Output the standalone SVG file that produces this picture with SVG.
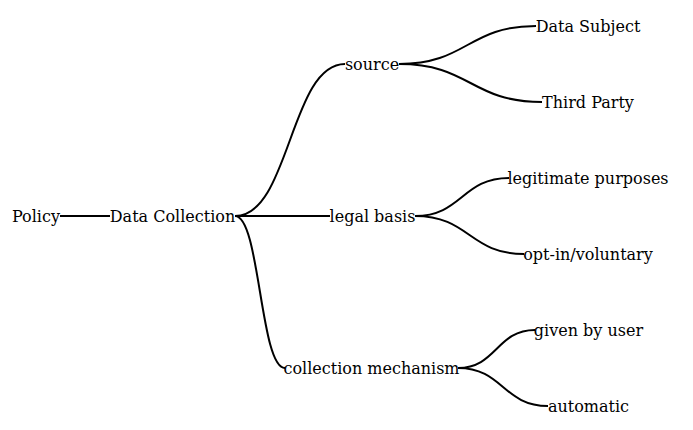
<svg xmlns="http://www.w3.org/2000/svg" width="693" height="430" viewBox="0 0 693 430">
<style>
text{font-family:"DejaVu Serif",serif;font-size:16px;fill:#000;text-anchor:middle;dominant-baseline:central}
.l{fill:none;stroke:#000;stroke-width:2}
</style>
<rect width="693" height="430" fill="#fff"/>
<g id="links">
<path class="l" d="M60,216 L110,216"/>
<path class="l" d="M235,216 C290,216 290,64 345,64"/>
<path class="l" d="M235,216 L330,216"/>
<path class="l" d="M235,216 C260,216 260,368 285,368"/>
<path class="l" d="M399,64 C467.5,64 467.5,26 536,26"/>
<path class="l" d="M399,64 C470.5,64 470.5,102 542,102"/>
<path class="l" d="M415,216 C462,216 462,178 509,178"/>
<path class="l" d="M415,216 C469.5,216 469.5,254 524,254"/>
<path class="l" d="M458,368 C496.5,368 496.5,330 535,330"/>
<path class="l" d="M458,368 C503,368 503,406 548,406"/>
</g>
<g id="n-policy"><text x="36" y="216">Policy</text></g>
<g id="n-datacollection"><text x="172.5" y="216">Data Collection</text></g>
<g id="n-source"><text x="372" y="64">source</text></g>
<g id="n-legalbasis"><text x="372.5" y="216">legal basis</text></g>
<g id="n-collectionmechanism"><text x="371.5" y="368">collection mechanism</text></g>
<g id="n-datasubject"><text x="588" y="26">Data Subject</text></g>
<g id="n-thirdparty"><text x="588" y="102">Third Party</text></g>
<g id="n-legitimate"><text x="588" y="178">legitimate purposes</text></g>
<g id="n-optin"><text x="588" y="254">opt-in/voluntary</text></g>
<g id="n-givenbyuser"><text x="588.5" y="330">given by user</text></g>
<g id="n-automatic"><text x="588.5" y="406">automatic</text></g>
</svg>
